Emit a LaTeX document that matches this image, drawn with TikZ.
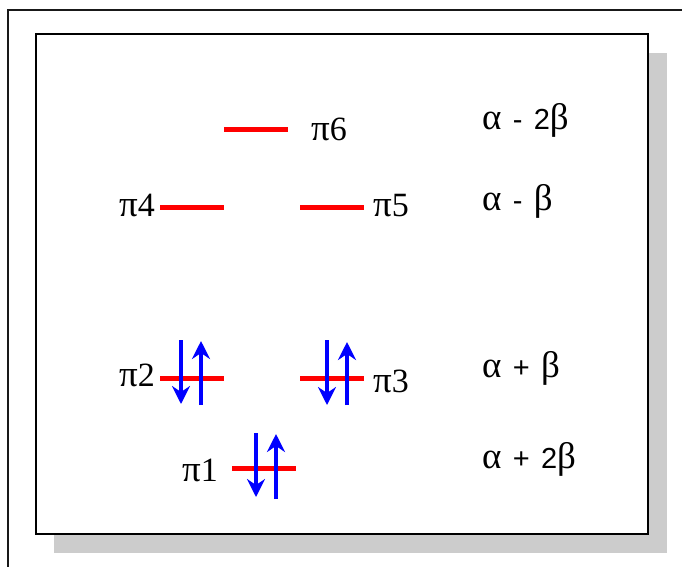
\documentclass[tikz,border=0pt]{standalone}
\usepackage{fontspec}
\setmainfont{Liberation Serif}
\newfontfamily\enfont[WordSpace=1.4]{Liberation Sans}
\usetikzlibrary{positioning}
\usetikzlibrary{arrows.meta}
\definecolor{shadowgray}{RGB}{204, 204, 204}
\newcommand{\gr}[1]{{\rmfamily\fontsize{37}{40}\selectfont #1}}

\begin{document}
\begin{tikzpicture}[x=1pt,y=-1pt,
  level/.style={rectangle,fill=red,minimum width=64pt,minimum height=5pt,
    inner sep=0pt},
  orb/.style={font=\fontsize{34}{38}\selectfont,inner sep=0pt},
  energy/.style={anchor=base west,inner sep=0pt,
    font=\enfont\fontsize{29}{32}\selectfont},
  spin/.style={draw=blue,line width=3.5pt,
    -{Stealth[length=18pt,width=18pt,inset=6pt]}}
]
  \clip (0,0) rectangle (682,566);
  \draw[line width=2pt,black!90] (8,10) rectangle (720,600);
  \fill[shadowgray] (54,53) rectangle (667,553);
  \draw[line width=2pt,fill=white] (36,34) rectangle (648,534);

  % levels
  \node[level] (p6) at (256,129) {};
  \node[level] (p4) at (192,207) {};
  \node[level] (p5) at (332,207) {};
  \node[level] (p2) at (192,378) {};
  \node[level] (p3) at (332,378) {};
  \node[level] (p1) at (264,468) {};

  \node[orb,anchor=base west] (l6) at (311,140) {\gr{π}6};
  \node[orb,anchor=base east] (l4) at (155,216) {\gr{π}4};
  \node[orb,anchor=base west] (l5) at (373,216) {\gr{π}5};
  \node[orb,anchor=base east] (l2) at (155,386) {\gr{π}2};
  \node[orb,anchor=base west] (l3) at (373,392) {\gr{π}3};
  \node[orb,anchor=base east] (l1) at (218,481) {\gr{π}1};

  \node[energy] (e6) at (482,129) {\gr{α} - 2\gr{β}};
  \node[energy] (e4) at (482,210) {\gr{α} - \gr{β}};
  \node[energy] (e2) at (482,377) {\gr{α} + \gr{β}};
  \node[energy] (e1) at (482,468) {\gr{α} + 2\gr{β}};

  % electrons
  \coordinate (d2a) at (181,340); \coordinate (d2b) at (181,404);
  \coordinate (u2a) at (201,405); \coordinate (u2b) at (201,341);
  \coordinate (d3a) at (327,340); \coordinate (d3b) at (327,405);
  \coordinate (u3a) at (347,405); \coordinate (u3b) at (347,342);
  \coordinate (d1a) at (256,433); \coordinate (d1b) at (256,497);
  \coordinate (u1a) at (276,499); \coordinate (u1b) at (276,434);
  \draw[spin] (d2a)--(d2b);
  \draw[spin] (u2a)--(u2b);
  \draw[spin] (d3a)--(d3b);
  \draw[spin] (u3a)--(u3b);
  \draw[spin] (d1a)--(d1b);
  \draw[spin] (u1a)--(u1b);
\end{tikzpicture}
\end{document}
